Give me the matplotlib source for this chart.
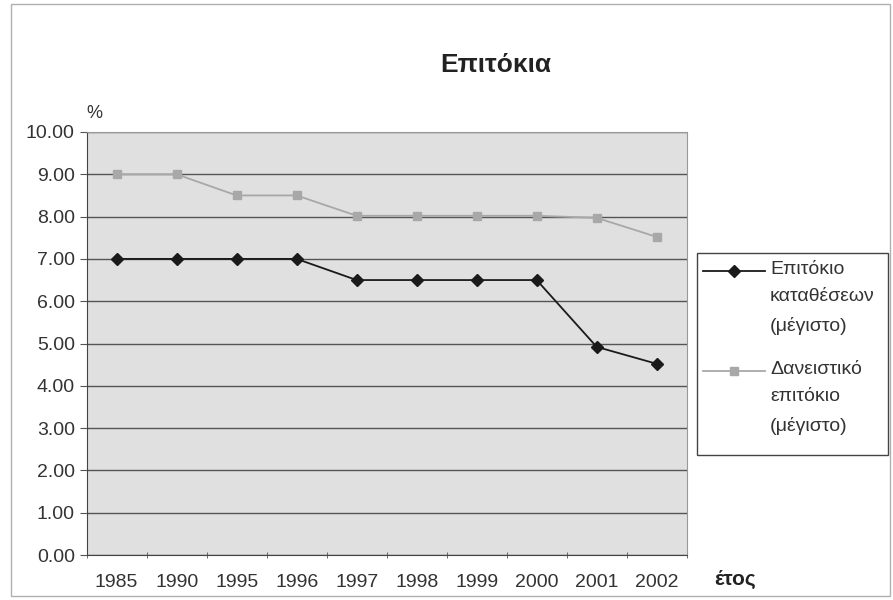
import matplotlib
matplotlib.use('Agg')
from matplotlib import pyplot as plt
from matplotlib.patches import Rectangle
from matplotlib.lines import Line2D
import numpy as np

years = ['1985', '1990', '1995', '1996', '1997', '1998', '1999', '2000', '2001', '2002']
deposit_rate = [7.0, 7.0, 7.0, 7.0, 6.5, 6.5, 6.5, 6.5, 4.92, 4.52]
lending_rate = [9.0, 9.0, 8.5, 8.5, 8.02, 8.02, 8.02, 8.02, 7.97, 7.52]
deposit_label = 'Επιτόκιο\nκαταθέσεων\n(μέγιστο)'
lending_label = 'Δανειστικό\nεπιτόκιο\n(μέγιστο)'

plt.rcParams['font.family'] = ['Liberation Sans', 'DejaVu Sans']

W, H = 893, 600
fig = plt.figure(figsize=(W / 100, H / 100), dpi=100)
fig.patch.set_facecolor('white')
# chart area border
fig.patches.append(Rectangle((0.012, 0.006), 0.985, 0.988, transform=fig.transFigure,
                             fill=False, edgecolor='#b0b0b0', linewidth=1.0))

ax = fig.add_axes([0.097, 0.075, 0.672, 0.705])
ax.set_facecolor('#e0e0e0')
x = np.arange(len(years))

styles = [
    dict(color='#1a1a1a', linewidth=1.3, marker='D', markersize=6),
    dict(color='#a8a8a8', linewidth=1.3, marker='s', markersize=6),
]
ax.plot(x, deposit_rate, **styles[0])
ax.plot(x, lending_rate, **styles[1])

ax.set_xlim(-0.5, len(years) - 0.5)
ax.set_ylim(0, 10)
ax.set_yticks(np.arange(0, 10.01, 1))
ax.set_yticklabels([f'{v:.2f}' for v in np.arange(0, 10.01, 1)])
ax.set_xticks(x)
ax.set_xticklabels(years)
ax.set_xticks(np.arange(-0.5, len(years), 1), minor=True)
ax.tick_params(axis='x', which='major', length=0, pad=14, labelsize=14, colors='#333333')
ax.tick_params(axis='x', which='minor', length=5, direction='inout', color='#555555')
ax.tick_params(axis='y', length=5, labelsize=14, colors='#333333')
ax.tick_params(axis='y', color='#555555')
ax.grid(axis='y', color='#555555', linewidth=1.0)
ax.set_axisbelow(True)

for side in ['top', 'right']:
    ax.spines[side].set_color('#999999')
for side in ['left', 'bottom']:
    ax.spines[side].set_color('#444444')

fig.text(0.555, 0.892, 'Επιτόκια', ha='center', va='center', fontsize=19, color='#222222',
         fontweight='bold')
fig.text(0.106, 0.81, '%', ha='center', va='center', fontsize=13, color='#333333')
fig.text(0.823, 0.034, 'έτος', ha='center', va='center', fontsize=15, color='#222222',
         fontweight='bold')

# legend drawn by hand so the handle sits on the first line of each label (Excel style)
fig.patches.append(Rectangle((697 / W, 1 - 455 / H), 191 / W, 202 / H, transform=fig.transFigure,
                             facecolor='white', edgecolor='#444444', linewidth=1.0))
for label, style, y_px in [(deposit_label, styles[0], 271), (lending_label, styles[1], 371)]:
    yf = 1 - y_px / H
    fig.lines.append(Line2D([703 / W, 734 / W, 765 / W], [yf, yf, yf], markevery=[1],
                            transform=fig.transFigure, **style))
    fig.text(770 / W, yf + 10 / H, label, ha='left', va='top', fontsize=14, color='#333333',
             linespacing=1.8, transform=fig.transFigure)

fig.savefig('out.png', dpi=100)
